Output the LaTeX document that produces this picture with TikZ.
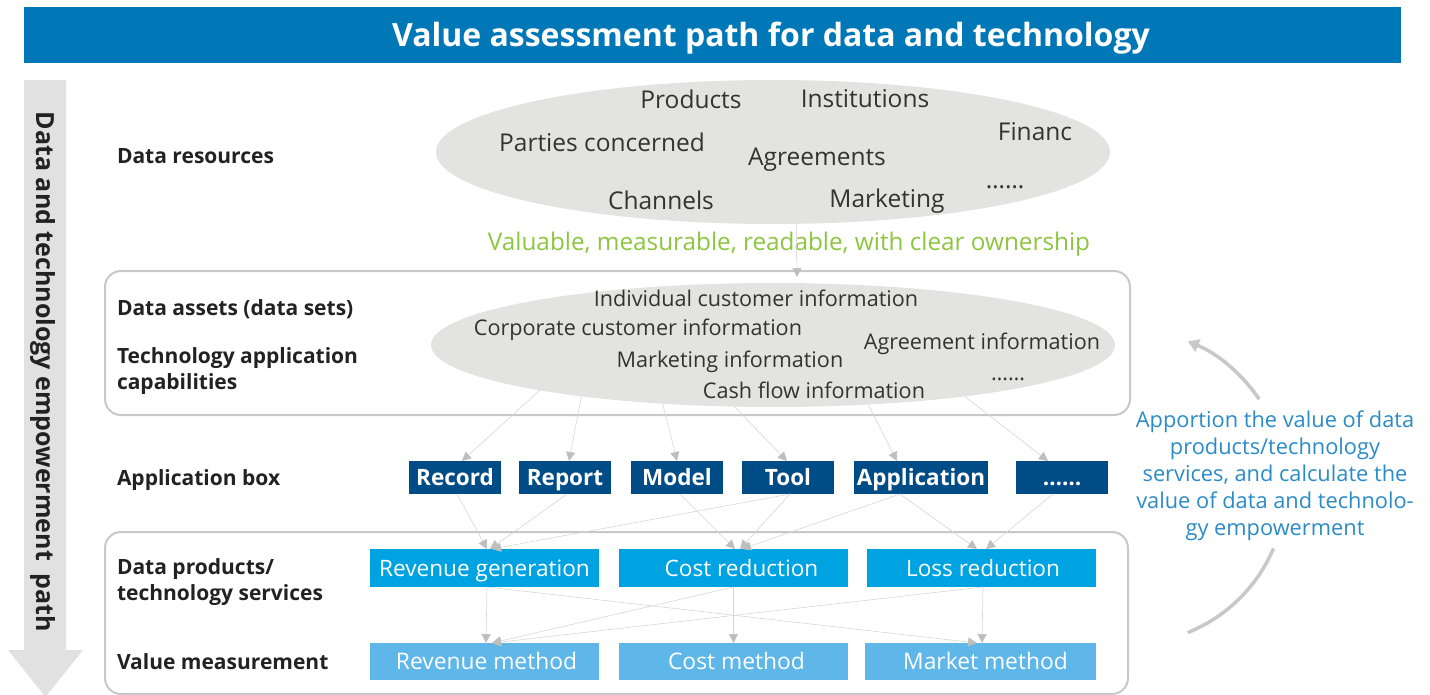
\documentclass[tikz,border=0pt]{standalone}
\usepackage{fontspec}
\setmainfont{Open Sans}
\usetikzlibrary{arrows.meta,shapes.geometric}
\definecolor{titleblue}{HTML}{0077B6}
\definecolor{ellgray}{HTML}{E3E4E1}
\definecolor{boxgray}{HTML}{C8C8C8}
\definecolor{appblue}{HTML}{004C86}
\definecolor{prodblue}{HTML}{00A3E1}
\definecolor{measblue}{HTML}{5EB7E8}
\definecolor{greentext}{HTML}{8CC63F}
\definecolor{bluetext}{HTML}{2A8BC8}
\definecolor{conngray}{HTML}{D6D6D6}
\definecolor{tipgray}{HTML}{BEBEBE}
\definecolor{pathgray}{HTML}{E1E1E1}
\definecolor{labeltext}{HTML}{222222}
\definecolor{elltext}{HTML}{333333}
\begin{document}
\begin{tikzpicture}[x=1pt,y=1pt,
  every node/.style={inner sep=0pt,outer sep=0pt},
  lbl/.style={anchor=west,font=\fontsize{21}{26}\selectfont\bfseries,text=labeltext,align=left},
  etxt/.style={text height=17.6pt,text depth=0pt,font=\fontsize{24.5}{28}\selectfont,text=elltext},
  etxtb/.style={text height=15.5pt,text depth=0pt,font=\fontsize{21.6}{26}\selectfont,text=elltext},
  ellbox/.style={ellipse,fill=ellgray,draw=none},
  appbox/.style={rectangle,text height=16.2pt,text depth=0pt,fill=appblue,text=white,font=\fontsize{22.5}{26}\selectfont\bfseries,minimum width=92pt,minimum height=33pt},
  prodbox/.style={rectangle,text height=16.3pt,text depth=0pt,fill=prodblue,text=white,font=\fontsize{22.6}{26}\selectfont,minimum width=229pt,minimum height=38pt},
  measbox/.style={rectangle,text height=16.4pt,text depth=0pt,fill=measblue,text=white,font=\fontsize{22.8}{26}\selectfont,minimum width=229pt,minimum height=37pt},
  groupbox/.style={rectangle,draw=boxgray,line width=2pt,rounded corners=16pt},
  conn/.style={draw=conngray,line width=0.6pt,-{Triangle[length=9pt,width=9pt,color=tipgray]}},
  bigarc/.style={draw=boxgray,line width=3.5pt},
]
\useasboundingbox (0,0) rectangle (1430,-695);
% title
\node[rectangle,fill=titleblue,minimum width=1377pt,minimum height=56pt] (title) at (712.5,-35) {};
\node[text height=23pt,text depth=0pt,text=white,font=\fontsize{32}{36}\selectfont\bfseries] (titletext) at (771,-35) {Value assessment path for data and technology};
% vertical path arrow
\fill[pathgray] (24,-80) -- (66,-80) -- (66,-650) -- (83,-650) -- (45.5,-697) -- (8,-650) -- (24,-650) -- cycle;
\node[rotate=-90,text height=18pt,text depth=0pt,font=\fontsize{25}{28}\selectfont\bfseries,text=labeltext] (pathtext) at (45,-372) {Data and technology empowerment\ \ path};
% left labels
\node[lbl] (l1) at (117,-156) {Data resources};
\node[lbl] (l2) at (117,-309) {Data assets (data sets)};
\node[lbl] (l3) at (117,-371) {Technology application\\capabilities};
\node[lbl] (l4) at (117,-480) {Application box};
\node[lbl] (l5) at (117,-582.5) {Data products/\\technology services};
\node[lbl] (l6) at (117,-661.5) {Value measurement};
% group boxes
\node[groupbox,minimum width=1025pt,minimum height=144pt] (g2) at (617.5,-343) {};
\node[groupbox,minimum width=1023pt,minimum height=162pt] (g3) at (616.5,-613) {};
% ellipse 1
\node[ellbox,minimum width=674pt,minimum height=144pt] (e1) at (773,-152) {};
\node[etxt] (t11) at (691,-100) {Products};
\node[etxt] (t12) at (865,-99) {Institutions};
\node[etxt] (t13) at (602,-143) {Parties concerned};
\node[etxt] (t14) at (1035,-132) {Financ};
\node[etxt] (t15) at (817,-157) {Agreements};
\node[etxt] (t16) at (661,-201) {Channels};
\node[etxt] (t17) at (887,-199) {Marketing};
\node[etxt] (t18) at (1005,-180) {……};
\node[text height=17.5pt,text depth=0pt,font=\fontsize{24.3}{28}\selectfont,text=greentext] (green) at (789,-242) {Valuable, measurable, readable, with clear ownership};
\coordinate (g2in) at (797,-277);
\draw[conn] (e1.288) -- (g2in);
% ellipse 2
\node[ellbox,minimum width=684pt,minimum height=124pt] (e2) at (773,-345) {};
\node[etxtb] (t21) at (756,-299) {Individual customer information};
\node[etxtb] (t22) at (638,-328) {Corporate customer information};
\node[etxtb] (t23) at (982,-342) {Agreement information};
\node[etxtb] (t24) at (730,-360) {Marketing information};
\node[etxtb] (t25) at (814,-391) {Cash flow information};
\node[etxtb] (t26) at (1008,-373) {……};
% application boxes
\node[appbox] (rec) at (455,-477.5) {Record};
\node[appbox] (rep) at (565,-477.5) {Report};
\node[appbox] (mod) at (677,-477.5) {Model};
\node[appbox] (tool) at (788,-477.5) {Tool};
\node[appbox,minimum width=134pt] (app) at (921,-477.5) {Application};
\node[appbox] (dots) at (1062,-477.5) {……};
% products
\node[prodbox] (rg) at (484.5,-568) {Revenue generation};
\node[prodbox] (cr) at (733.5,-568) {\hspace*{16pt}Cost reduction};
\node[prodbox] (lr) at (981.5,-568) {\hspace*{3pt}Loss reduction};
% measurement
\node[measbox] (rm) at (484.5,-661.5) {\hspace*{4pt}Revenue method};
\node[measbox] (cm) at (733.5,-661.5) {\hspace*{6pt}Cost method};
\node[measbox,minimum width=231pt] (mm) at (980.5,-661.5) {\hspace*{10pt}Market method};
% ellipse 2 -> application boxes
\draw[conn] (e2.191) -- ([xshift=7pt]rec.north);
\draw[conn] (e2.195) -- ([xshift=4pt]rep.north);
\draw[conn] (e2.208) -- (mod.north);
\draw[conn] (e2.238) -- ([xshift=-1pt]tool.north);
\draw[conn] (e2.328) -- ([xshift=-24pt]app.north);
\draw[conn] (e2.345) -- ([xshift=-14pt]dots.north);
% application boxes -> products
\draw[conn] ([xshift=2pt]rec.south) -- ([xshift=2.5pt]rg.north);
\draw[conn] ([xshift=2pt]rep.south) -- ([xshift=5.5pt]rg.north);
\draw[conn] ([xshift=2pt]tool.south) -- ([xshift=7.5pt]rg.north);
\draw[conn] ([xshift=3pt]mod.south) -- ([xshift=1.5pt]cr.north);
\draw[conn] ([xshift=2pt]tool.south) -- ([xshift=6.5pt]cr.north);
\draw[conn] ([xshift=-21pt]app.south) -- ([xshift=8.5pt]cr.north);
\draw[conn] ([xshift=-21pt]app.south) -- ([xshift=-4.5pt]lr.north);
\draw[conn] ([xshift=-9pt]dots.south) -- ([xshift=4.5pt]lr.north);
% products -> measurement
\draw[conn] ([xshift=2.5pt]rg.south) -- ([xshift=1.5pt]rm.north);
\draw[conn] ([xshift=2.5pt]rg.south) -- ([xshift=-3.5pt]mm.north);
\draw[conn] (cr.south) -- ([xshift=7.5pt]rm.north);
\draw[conn] (cr.south) -- (cm.north);
\draw[conn] ([xshift=1.5pt]lr.south) -- ([xshift=7.5pt]rm.north);
\draw[conn] ([xshift=1.5pt]lr.south) -- ([xshift=1.5pt]mm.north);
% right side feedback arrow
\coordinate (arcc) at (1129,-487);
\draw[bigarc] (arcc) ++(-68:157) arc[start angle=-68,end angle=-23,radius=157];
\draw[bigarc,-{Triangle[length=11pt,width=13pt]}] (arcc) ++(34:157) arc[start angle=34,end angle=68,radius=157];
\node[align=center,font=\fontsize{21.8}{27}\selectfont,text=bluetext] (note) at (1275,-475.5) {Apportion the value of data\\products/technology\\services, and calculate the\\value of data and technolo-\\gy empowerment};
\end{tikzpicture}
\end{document}
